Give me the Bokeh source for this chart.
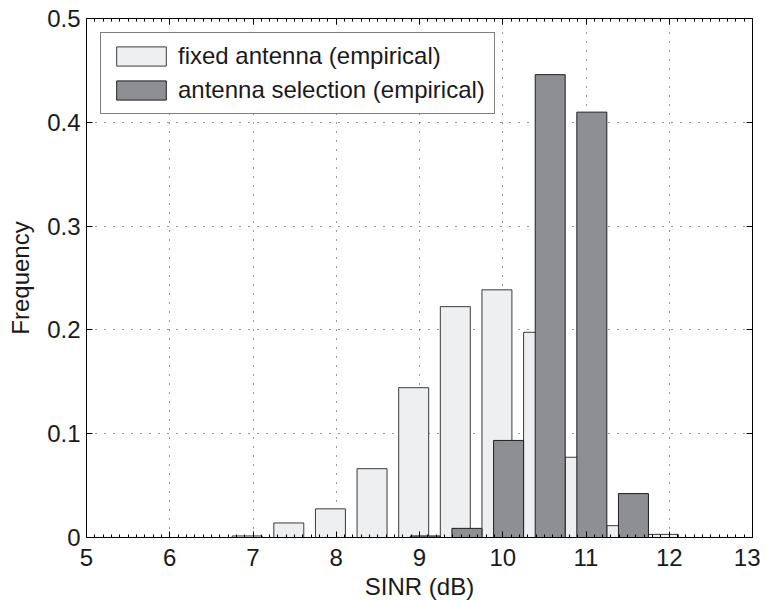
from bokeh.plotting import figure
from bokeh.models import (FixedTicker, LinearAxis, Range1d, ColumnDataSource,
                          Legend, LegendItem, CustomJSTickFormatter)
from bokeh.embed import file_html
from bokeh.resources import INLINE

# ---- data ----
fixed_centers = [6.93, 7.43, 7.93, 8.43, 8.93, 9.43, 9.93, 10.43, 10.93, 11.43, 11.93]
fixed_freq = [0.0015, 0.014, 0.0276, 0.0663, 0.1443, 0.2224, 0.2386, 0.1977, 0.0773, 0.0114, 0.003]
sel_centers = [9.07, 9.57, 10.07, 10.57, 11.07, 11.57]
sel_freq = [0.0015, 0.0088, 0.0935, 0.4459, 0.4098, 0.0423]
bar_width = 0.36

x_ticks = [5, 6, 7, 8, 9, 10, 11, 12, 13]
y_ticks = [0, 0.1, 0.2, 0.3, 0.4, 0.5]
y_tick_labels = ["0", "0.1", "0.2", "0.3", "0.4", "0.5"]
x_minor = [5 + i * 0.1 for i in range(81)]

labels = ["fixed antenna (empirical)", "antenna selection (empirical)"]

FONT = "Liberation Sans"
FS = "24px"

p = figure(width=760, height=602, output_backend="svg", toolbar_location=None,
           x_range=Range1d(5, 13), y_range=Range1d(0, 0.5),
           min_border_left=86, min_border_right=8, min_border_top=18,
           min_border_bottom=64)
p.outline_line_color = None
p.background_fill_color = "white"
p.border_fill_color = "white"

src_f = ColumnDataSource(dict(x=fixed_centers, top=fixed_freq))
src_s = ColumnDataSource(dict(x=sel_centers, top=sel_freq))
r1 = p.vbar(x="x", top="top", bottom=0, width=bar_width, source=src_f,
            fill_color="#eeeff1", line_color="#3a3a3a", line_width=1)
r2 = p.vbar(x="x", top="top", bottom=0, width=bar_width, source=src_s,
            fill_color="#8e8f93", line_color="#1e1e1e", line_width=1)

xt = FixedTicker(ticks=x_ticks, minor_ticks=x_minor)
yt = FixedTicker(ticks=y_ticks)

def style_axis(ax, show_labels):
    ax.axis_line_color = "black"
    ax.axis_line_width = 1
    ax.major_tick_in = 6
    ax.major_tick_out = 0
    ax.major_tick_line_color = "black"
    ax.minor_tick_out = 0
    ax.major_label_text_font = FONT
    ax.major_label_text_color = "#1a1a1a"
    ax.axis_label_text_font = FONT
    ax.axis_label_text_font_style = "normal"
    ax.axis_label_text_color = "#1a1a1a"
    ax.axis_label_text_font_size = FS
    ax.major_label_text_font_size = FS
    if not show_labels:
        ax.formatter = CustomJSTickFormatter(code="return ''")
        ax.major_label_standoff = 0

xa = p.xaxis[0]
xa.ticker = xt
style_axis(xa, True)
xa.minor_tick_in = 3
xa.minor_tick_line_color = "black"
xa.major_label_standoff = 11
xa.axis_label = "SINR (dB)"
xa.axis_label_standoff = 4

ya = p.yaxis[0]
ya.ticker = yt
style_axis(ya, True)
ya.minor_tick_line_color = None
ya.major_label_overrides = {t: l for t, l in zip(y_ticks, y_tick_labels)}
ya.major_label_standoff = 6
ya.axis_label = "Frequency"
ya.axis_label_standoff = 10

top_ax = LinearAxis(ticker=xt)
style_axis(top_ax, False)
top_ax.minor_tick_in = 3
top_ax.minor_tick_line_color = "black"
p.add_layout(top_ax, "above")

right_ax = LinearAxis(ticker=yt)
style_axis(right_ax, False)
right_ax.minor_tick_line_color = None
p.add_layout(right_ax, "right")

for g in p.grid:
    g.grid_line_color = "black"
    g.grid_line_dash = "1 8"
    g.grid_line_width = 1
    g.grid_line_alpha = 0.8
p.xgrid[0].ticker = xt
p.ygrid[0].ticker = yt

legend = Legend(items=[LegendItem(label=labels[0], renderers=[r1]),
                       LegendItem(label=labels[1], renderers=[r2])],
                location="top_left")
legend.margin = 14
legend.padding = 9
legend.spacing = 6
legend.glyph_width = 62
legend.glyph_height = 24
legend.label_height = 24
legend.label_standoff = 6
legend.label_text_font = FONT
legend.label_text_font_size = FS
legend.label_text_color = "#1a1a1a"
legend.border_line_color = "black"
legend.border_line_width = 1
legend.background_fill_color = "white"
legend.background_fill_alpha = 1
p.add_layout(legend)

open("out.html", "w").write(file_html(p, INLINE))
